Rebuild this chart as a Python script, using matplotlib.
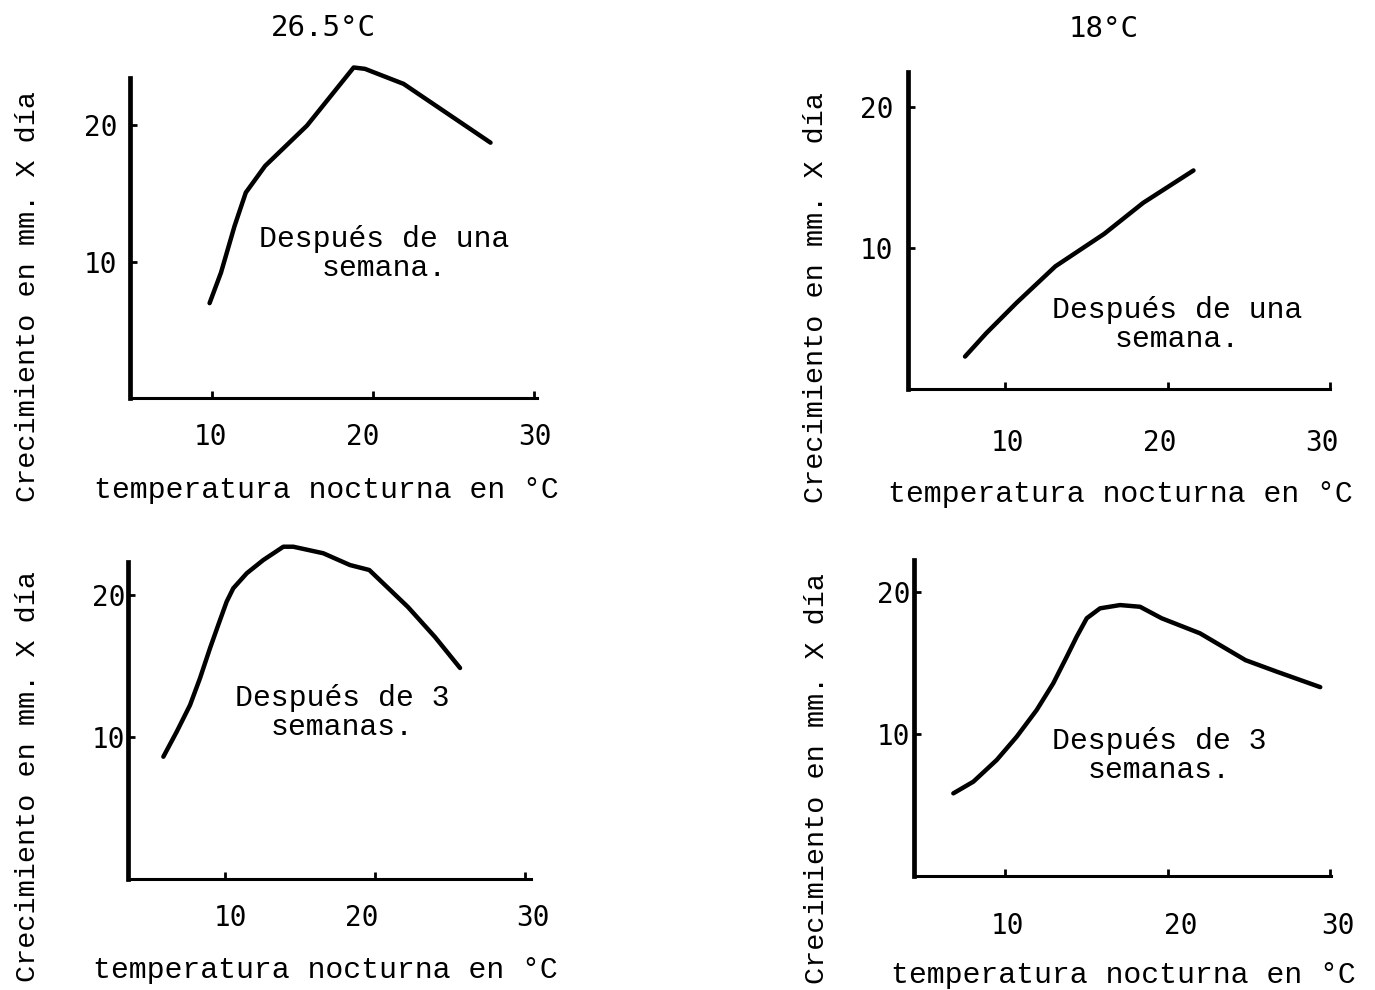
import matplotlib
matplotlib.use("Agg")
import matplotlib.pyplot as plt
from matplotlib.transforms import ScaledTranslation

W, H = 1375, 990

# values (x = night temperature in C, y = growth mm/day)
tl_x = [9.85, 10.56, 11.4, 12.1, 13.3, 15.9, 18.8, 19.5, 21.9, 27.3]
tl_y = [6.96, 9.2, 12.6, 15.05, 17.0, 19.95, 24.2, 24.1, 23.0, 18.7]

tr_x = [7.54, 8.84, 10.7, 13.1, 16.1, 18.5, 21.6]
tr_y = [2.3, 3.95, 6.1, 8.7, 11.0, 13.2, 15.5]

bl_x = [5.87, 6.76, 7.65, 8.31, 8.98, 9.53, 10.09, 10.53, 11.43, 12.53, 13.87, 14.53,
        16.53, 18.31, 19.6, 22.18, 23.98, 25.65]
bl_y = [8.61, 10.37, 12.25, 14.13, 16.25, 17.89, 19.53, 20.47, 21.53, 22.46, 23.4, 23.4,
        22.94, 22.11, 21.76, 19.15, 17.04, 14.86]

br_x = [6.82, 8.05, 9.49, 10.72, 11.95, 12.97, 13.8, 14.41, 15.03, 15.85, 17.08, 18.31,
        19.64, 22.0, 24.8, 26.7, 29.4]
br_y = [5.82, 6.64, 8.17, 9.81, 11.69, 13.57, 15.44, 16.85, 18.15, 18.85, 19.08, 18.96,
        18.15, 17.09, 15.2, 14.4, 13.3]

x_ticks = [10, 20, 30]
y_ticks = [10, 20]
titles = ["26.5°C", "18°C"]
xlab = "temperatura nocturna en °C"
ylab = "Crecimiento en mm. X día"
note_1 = "Después de una\nsemana."
note_3 = "Después de 3\nsemanas."

# layout of each panel in pixels of the original scan
panels = [
    dict(x=tl_x, y=tl_y, x10=212, sx=16.1, y0=398.3, sy=13.67, xlim=(4.9, 31.5),
         ytop=23.4, xend=30.2, ypad=9, xpad=18, dx=[-1.5, -10.5, 1],
         note=note_1, note_xy=(20.7, 10.6), xl=(326, 490), yl=(28, 297)),
    dict(x=tr_x, y=tr_y, x10=1005, sx=16.25, y0=389, sy=14.1, xlim=(4.0, 31.5),
         ytop=22.5, xend=30.0, ypad=10, xpad=29, dx=[2, -8, -8],
         note=note_1, note_xy=(20.6, 4.6), xl=(1120, 494), yl=(816, 298)),
    dict(x=bl_x, y=bl_y, x10=225.3, sx=15.0, y0=879, sy=14.2, xlim=(3.5, 32),
         ytop=22.3, xend=30.4, ypad=2, xpad=18, dx=[5, -14, 8],
         note=note_3, note_xy=(17.8, 11.7), xl=(325, 970), yl=(28, 777)),
    dict(x=br_x, y=br_y, x10=1005, sx=16.25, y0=876, sy=14.2, xlim=(4.4, 31.5),
         ytop=22.25, xend=30.06, ypad=2.5, xpad=26, dx=[2, 13, 8],
         note=note_3, note_xy=(19.5, 8.5), xl=(1123, 975), yl=(817, 779)),
]
ylim = (0, 25)

mono = "Liberation Mono"
num_font = "DejaVu Sans Mono"

fig = plt.figure(figsize=(W / 100, H / 100), dpi=100)
fig.patch.set_facecolor("white")

for p in panels:
    left = p["x10"] + (p["xlim"][0] - 10) * p["sx"]
    right = p["x10"] + (p["xlim"][1] - 10) * p["sx"]
    top = p["y0"] - ylim[1] * p["sy"]
    bottom = p["y0"] - ylim[0] * p["sy"]
    ax = fig.add_axes([left / W, 1 - bottom / H, (right - left) / W, (bottom - top) / H])
    ax.set_xlim(p["xlim"])
    ax.set_ylim(ylim)
    ax.patch.set_alpha(0)

    ax.plot(p["x"], p["y"], color="black", lw=3.2, solid_capstyle="round",
            solid_joinstyle="round", clip_on=False)

    for s in ["top", "right"]:
        ax.spines[s].set_visible(False)
    ax.spines["left"].set_linewidth(3.4)
    ax.spines["bottom"].set_linewidth(2.2)
    ax.spines["left"].set_bounds(0, p["ytop"])
    ax.spines["bottom"].set_bounds(p["xlim"][0], p["xend"])

    ax.set_xticks(x_ticks)
    ax.set_yticks(y_ticks)
    ax.set_xticklabels([str(t) for t in x_ticks])
    ax.set_yticklabels([str(t) for t in y_ticks])
    ax.tick_params(axis="both", direction="in", length=5, width=2, labelsize=20)
    ax.tick_params(axis="x", pad=p["xpad"])
    ax.tick_params(axis="y", pad=p["ypad"])
    for lbl in ax.get_xticklabels() + ax.get_yticklabels():
        lbl.set_fontfamily(num_font)
    for lbl, d in zip(ax.get_xticklabels(), p["dx"]):
        lbl.set_transform(lbl.get_transform() + ScaledTranslation(d / 100, 0, fig.dpi_scale_trans))

    ax.set_xlabel(xlab, fontsize=21.5, family=mono, va="center", ha="center")
    ax.xaxis.set_label_coords(p["xl"][0] / W, 1 - p["xl"][1] / H, transform=fig.transFigure)
    ax.set_ylabel(ylab, fontsize=20.5, family=mono, va="center", ha="center")
    ax.yaxis.set_label_coords(p["yl"][0] / W, 1 - p["yl"][1] / H, transform=fig.transFigure)

    ax.text(p["note_xy"][0], p["note_xy"][1], p["note"], fontsize=21.5, family=mono,
            ha="center", va="center", multialignment="center", linespacing=1.05)

fig.text(323 / W, 1 - 28 / H, titles[0], fontsize=21, family=num_font, ha="center", va="center")
fig.text(1104 / W, 1 - 29 / H, titles[1], fontsize=21, family=num_font, ha="center", va="center")

fig.savefig("out.png", dpi=100, facecolor="white")
